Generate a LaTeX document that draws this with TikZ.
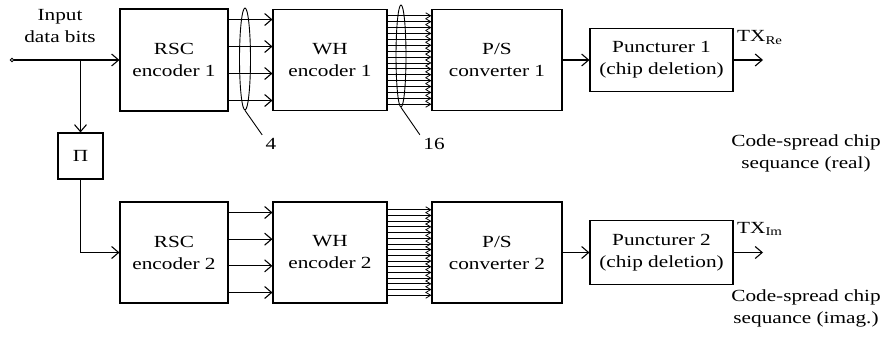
\documentclass[tikz,border=0pt]{standalone}
\usepackage{fontspec}
\setmainfont{Liberation Serif}[FakeStretch=1.25]
\usetikzlibrary{arrows.meta}
\usetikzlibrary{shapes.geometric}
\tikzset{
  every node/.style = {font = \fontsize{17}{22}\selectfont}
}
\tikzset{
    >={Straight Barb[length=7pt,width=12pt]}
}
\tikzset{
  block/.style = {draw, line width=1.1pt, align=center, inner sep=0pt},
  bus/.style = {draw, ellipse, line width=0.9pt, inner sep=0pt},
  wire/.style = {line width=1.1pt},
  fine wire/.style = {line width=0.8pt, -{Straight Barb[length=5pt,width=6pt]}}
}

\begin{document}
\begin{tikzpicture}[x=1pt,y=-1pt]
\def\rowA{60}
\def\rowB{252.5}
\useasboundingbox (0,0) rectangle (882,341);

% Upper branch (real part)
\node[block, minimum width=108, minimum height=102] (rsc1) at (174,\rowA) {RSC\\encoder 1};
\node[block, minimum width=114, minimum height=101] (wh1) at (330,\rowA) {WH\\encoder 1};
\node[block, minimum width=130, minimum height=101] (ps1) at (497,\rowA) {P/S\\converter 1};
\node[block, minimum width=143, minimum height=63] (punc1) at (661.5,\rowA) {Puncturer 1\\(chip deletion)};

% Lower branch (imaginary part)
\node[block, minimum width=108, minimum height=101] (rsc2) at (174,\rowB) {RSC\\encoder 2};
\node[block, minimum width=114, minimum height=101] (wh2) at (330,\rowB) {WH\\encoder 2};
\node[block, minimum width=130, minimum height=101] (ps2) at (497,\rowB) {P/S\\converter 2};
\node[block, minimum width=143, minimum height=64] (punc2) at (661.5,\rowB) {Puncturer 2\\(chip deletion)};

% Interleaver
\node[block, minimum width=45, minimum height=46] (pi) at (80.5,156) {Π};

% Input
\node[circle, draw, line width=0.8pt, inner sep=0pt, minimum size=3.5pt] (src) at (12,\rowA) {};
\node[align=center] (inlabel) at (60,26) {Input\\data bits};
\coordinate (br) at (pi.north |- src);
\draw[wire,->] (src) -- (rsc1.west);
\draw[wire,->] (br) -- (pi.north);
\draw[wire,->] (pi.south) |- (rsc2.west);

% RSC -> WH (4 lines)
\foreach \d in {-40.5,-13.5,13.5,40.5}
  \draw[wire,->] ([yshift=\d]rsc1.east) -- ([yshift=\d]wh1.west);
\foreach \d in {-40,-13.35,13.35,40}
  \draw[wire,->] ([yshift=\d]rsc2.east) -- ([yshift=\d]wh2.west);

% WH -> P/S (16 lines)
\foreach \i in {0,...,15}{
  \pgfmathsetmacro\d{(\i-7.5)*5.9}
  \draw[fine wire] ([yshift=\d]wh1.east) -- ([yshift=\d]ps1.west);
  \pgfmathsetmacro\d{(\i-7.5)*5.7}
  \draw[fine wire] ([yshift=\d]wh2.east) -- ([yshift=\d]ps2.west);
}

% Bus widths
\node[bus, minimum width=11, minimum height=102] (bus4) at (245,59) {};
\node[bus, minimum width=10, minimum height=102] (bus16) at (401,56) {};
\node (n4) at (271,144) {4};
\node (n16) at (434,144) {16};
\draw[line width=0.9pt] (bus4.south) -- (n4.north west);
\draw[line width=0.9pt] (bus16.south) -- (n16.north west);

% P/S -> puncturer -> output
\coordinate (out1) at (763,\rowA);
\coordinate (out2) at (763,\rowB);
\draw[wire,->] (ps1.east) -- (punc1.west);
\draw[wire,->] (punc1.east) -- (out1);
\draw[wire,->] (ps2.east) -- (punc2.west);
\draw[wire,->] (punc2.east) -- (out2);

% Output labels
\node[anchor=base west, inner sep=0pt] (txre) at (737,41.7) {TX\textsubscript{Re}};
\node[anchor=base west, inner sep=0pt] (txim) at (737,233) {TX\textsubscript{Im}};
\node[align=center] (cap1) at (806,153) {Code-spread chip\\sequance (real)};
\node[align=center] (cap2) at (806,308) {Code-spread chip\\sequance (imag.)};
\end{tikzpicture}
\end{document}
